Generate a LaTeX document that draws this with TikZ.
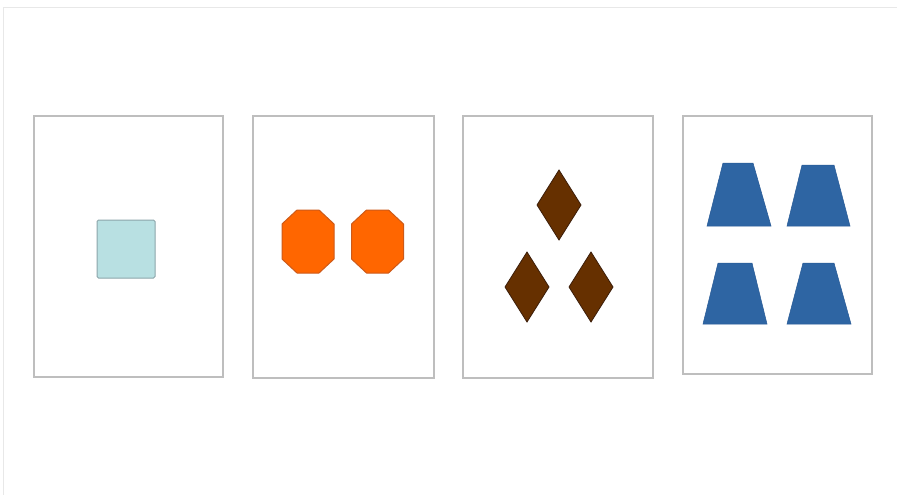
\documentclass[tikz,border=0pt]{standalone}
\begin{document}
\begin{tikzpicture}[x=1pt,y=-1pt,
  card/.style={draw={rgb,255:red,190;green,190;blue,190},line width=1.6pt,fill=white},
  sq/.style={draw={rgb,255:red,140;green,165;blue,170},fill={rgb,255:red,184;green,224;blue,226},line width=1pt,rounded corners=1.5pt},
  oct/.style={draw={rgb,255:red,205;green,90;blue,25},fill={rgb,255:red,255;green,102;blue,0},line width=1pt},
  dia/.style={draw={rgb,255:red,60;green,30;blue,10},fill={rgb,255:red,102;green,48;blue,0},line width=0.8pt},
  trap/.style={fill={rgb,255:red,46;green,101;blue,163},draw={rgb,255:red,40;green,90;blue,150},line width=0.5pt},
  frame/.style={draw={rgb,255:red,232;green,232;blue,232},line width=1pt}]
\useasboundingbox (0,0) rectangle (897,495);
\fill[white] (0,0) rectangle (897,495);
% faint outer frame
\draw[frame] (3,495) -- (3,8) -- (897,8);
% cards
\draw[card] (34,116) rectangle (223,377);
\draw[card] (253,116) rectangle (434,378);
\draw[card] (463,116) rectangle (653,378);
\draw[card] (683,116) rectangle (872,374);
% card 1: square
\draw[sq] (97,220) rectangle (155,278);
% card 2: octagons
\foreach \cx in {308,377.5}{
  \draw[oct] (\cx-11,210) -- (\cx+11,210) -- (\cx+26,224) -- (\cx+26,259) -- (\cx+11,273) -- (\cx-11,273) -- (\cx-26,259) -- (\cx-26,224) -- cycle;
}
% card 3: diamonds
\foreach \cx/\cy in {559/205,527/287,591/287}{
  \draw[dia] (\cx,\cy-35) -- (\cx+22,\cy) -- (\cx,\cy+35) -- (\cx-22,\cy) -- cycle;
}
% card 4: trapezoids
\draw[trap] (723,163) -- (753,163) -- (771,226) -- (707,226) -- cycle;
\draw[trap] (802,165) -- (834,165) -- (850,226) -- (787,226) -- cycle;
\draw[trap] (718,263) -- (752,263) -- (767,324) -- (703,324) -- cycle;
\draw[trap] (803,263) -- (834,263) -- (851,324) -- (787,324) -- cycle;
\end{tikzpicture}
\end{document}
